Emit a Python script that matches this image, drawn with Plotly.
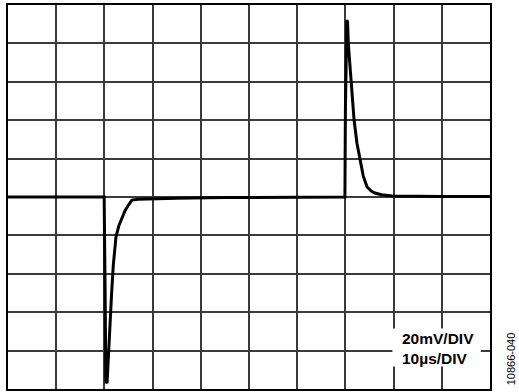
import plotly.graph_objects as go

# time in microseconds, voltage in millivolts
time_us = [0, 10, 19.95, 20.15, 20.3, 20.55, 20.85, 21.16, 21.5, 21.85, 22.4, 23.0, 23.6,
           24.3, 25.0, 25.7, 27.0, 29.5, 35, 45, 55, 65, 69.9, 70.0, 70.15, 70.3, 70.45,
           70.6, 70.9, 71.2, 71.5, 71.8, 72.4, 73.0, 73.7, 74.5, 75.3, 76.1, 77.5, 79.7,
           90, 100]
volt_mv = [0, 0, 0, -50, -96, -97, -80.7, -65.4, -50, -35.4, -20.8, -15, -10.9,
           -7, -4.2, -1.6, -1.2, -1.0, -0.6, -0.3, -0.1, 0, 0, 45, 88, 92.2, 91,
           80.2, 70, 60.4, 50, 40.1, 28, 19.3, 11, 5.2, 3.2, 2.1, 1.2, 0.5,
           0.2, 0.3]

x_range = [0, 100]
y_range = [-100, 100]
x_dtick = 10
y_dtick = 20

scale_lines = ["20mV/DIV", "10µs/DIV"]
figure_id = "10866-040"

fig = go.Figure()
fig.add_trace(go.Scatter(x=time_us, y=volt_mv, mode="lines",
                         line=dict(color="black", width=3), hoverinfo="skip"))

fig.add_shape(type="rect", xref="x", yref="y", x0=79.75, x1=98.1, y0=-88.3, y1=-68.5,
              fillcolor="white", line=dict(width=0), layer="above")

fig.add_annotation(x=81.4, y=-79.0, xref="x", yref="y", xanchor="left", yanchor="middle",
                   text="<b>" + scale_lines[0] + "</b><br><b>" + scale_lines[1] + "</b>",
                   align="left", showarrow=False,
                   font=dict(family="Liberation Sans, Arial", size=15.5, color="black"))

fig.add_annotation(x=1.044, y=0.078, xref="paper", yref="paper", xanchor="center",
                   yanchor="middle", text=figure_id, textangle=-90, showarrow=False,
                   font=dict(family="Liberation Sans Narrow, Liberation Sans, Arial",
                             size=11, color="black"))

axis_common = dict(showgrid=True, gridcolor="#3a3a3a", gridwidth=1.5, zeroline=False,
                   showline=True, linecolor="black", linewidth=2, mirror=True,
                   showticklabels=False, ticks="", fixedrange=True)

fig.update_xaxes(range=x_range, dtick=x_dtick, tick0=0, **axis_common)
fig.update_yaxes(range=y_range, dtick=y_dtick, tick0=0, **axis_common)

fig.update_layout(width=519, height=392, margin=dict(l=8, r=29, t=5, b=3),
                  plot_bgcolor="white", paper_bgcolor="white", showlegend=False)

fig.write_html("out.html", config={"displayModeBar": False},
               post_script="document.body.style.margin='0px';document.body.style.overflow='hidden';")
